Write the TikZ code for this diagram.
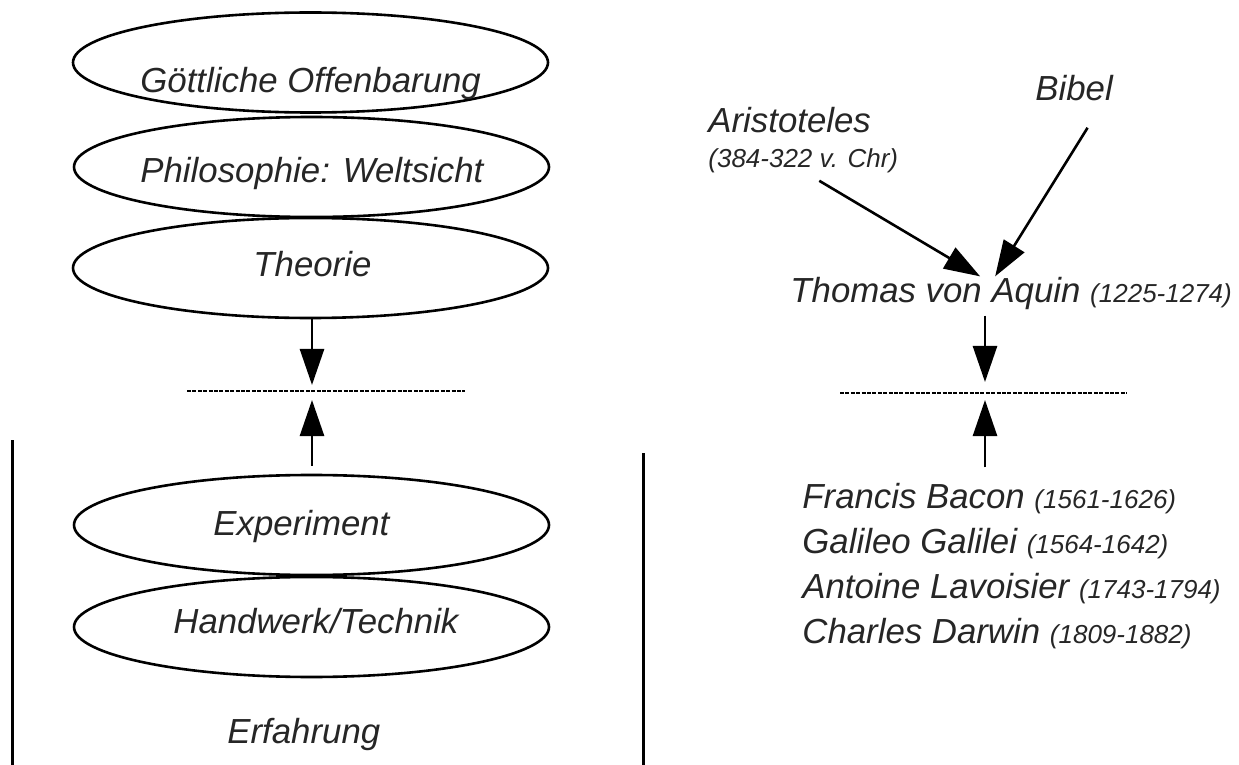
\documentclass[tikz,border=0pt]{standalone}
\usepackage{fontspec}
\setmainfont{Liberation Sans}
\usetikzlibrary{arrows.meta,positioning,shapes.geometric}

\newcommand{\jahre}[1]{{\fontsize{13}{15}\selectfont #1}}

\tikzset{
  schicht/.style={draw, ellipse, line width=1.3pt, minimum width=237.5pt, minimum height=50pt, inner sep=0pt},
  gross/.style={anchor=base west, inner sep=0pt, text=black!85, font=\fontsize{17.4}{20}\selectfont\itshape},
  klein/.style={gross, font=\fontsize{13}{15}\selectfont\itshape},
  pfeil/.style={-{Triangle[length=18pt,width=12pt]}, line width=1.3pt},
  trenn/.style={line width=1.4pt, dash pattern=on 2pt off 0.7pt},
  wand/.style={line width=1.5pt}
}

\begin{document}
\begin{tikzpicture}[x=0.5pt,y=-0.5pt]
\useasboundingbox (0,0) rectangle (1239,765);

%Links: Ellipsen
\node[schicht] (gott) at (310.5,62.5) {};
\node[schicht] (philo) at (311.5,167) {};
\node[schicht] (theorie) at (310.5,268) {};
\node[schicht] (experiment) at (311.5,525) {};
\node[schicht] (handwerk) at (311.5,627) {};

\node[gross] (gotttext) at (140,93) {Göttliche Offenbarung};
\node[gross] (philotext) at (140,183) {Philosophie: Weltsicht};
\node[gross] (theorietext) at (253,277) {Theorie};
\node[gross] (exptext) at (213,535) {Experiment};
\node[gross] (handtext) at (173,633) {Handwerk/Technik};
\node[gross] (erfahrung) at (227,743) {Erfahrung};

%Links: Pfeile und Trennlinie
\coordinate (lo) at (312,385);
\coordinate (lu) at (312,400);
\coordinate (la) at (187,391);
\coordinate (lb) at (465,391);
\draw[pfeil] (theorie.south -| lo) -- (lo);
\draw[trenn] (la) -- (lb);
\draw[pfeil] ([yshift=4pt]experiment.north -| lu) -- (lu);

%Senkrechte Striche
\draw[wand] (12,440) -- (12,765);
\draw[wand] (643,453) -- (643,765);

%Rechts
\node[gross] (aristoteles) at (708,133) {Aristoteles};
\node[klein] (aristjahre) at (708,168) {(384-322 v. Chr)};
\node[gross] (bibel) at (1035,101) {Bibel};
\node[gross] (thomas) at (790,302) {Thomas von Aquin \jahre{(1225-1274)}};

\draw[pfeil] (aristjahre.south) ++(16,7) -- ([xshift=-15.5pt]thomas.north);
\draw[pfeil] (bibel.south) ++(13.5,26) -- ([xshift=-8pt]thomas.north);

\node[gross] (bacon) at (802,508) {Francis Bacon \jahre{(1561-1626)}};
\node[gross] (galilei) at (802,553) {Galileo Galilei \jahre{(1564-1642)}};
\node[gross] (lavoisier) at (802,598) {Antoine Lavoisier \jahre{(1743-1794)}};
\node[gross] (darwin) at (802,643) {Charles Darwin \jahre{(1809-1882)}};

%Rechts: Pfeile und Trennlinie
\coordinate (ro) at (985,382);
\coordinate (ru) at (985,400);
\coordinate (ra) at (840,393);
\coordinate (rb) at (1127,393);
\draw[pfeil] ([yshift=-3pt]thomas.south -| ro) -- (ro);
\draw[trenn] (ra) -- (rb);
\draw[pfeil] ([yshift=7.5pt]bacon.north -| ru) -- (ru);
\end{tikzpicture}
\end{document}
